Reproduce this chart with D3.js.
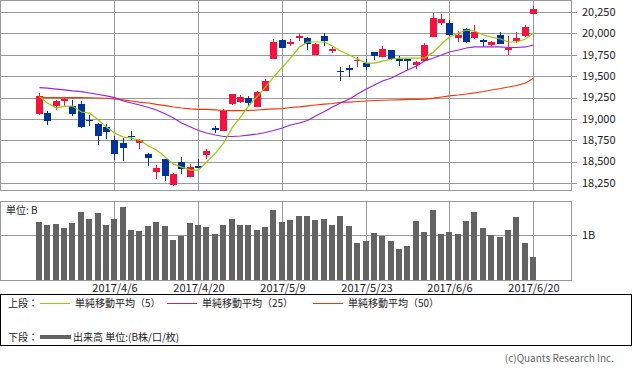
<!DOCTYPE html>
<html>
<head>
<meta charset="utf-8">
<script src="https://cdn.jsdelivr.net/npm/d3@7"></script>
<style>
body { margin: 0; background: #fff; }
text { font-family: "Noto Sans CJK JP", "Noto Sans", sans-serif; }
</style>
</head>
<body>
<div id="chart"></div>
<script>
// trading days shown, 2017
const dates = ["3/24","3/27","3/28","3/29","3/30","3/31","4/3","4/4","4/5","4/6",
  "4/7","4/10","4/11","4/12","4/13","4/14","4/17","4/18","4/19","4/20",
  "4/21","4/24","4/25","4/26","4/27","4/28","5/1","5/2","5/8","5/9",
  "5/10","5/11","5/12","5/15","5/16","5/17","5/18","5/19","5/22","5/23",
  "5/24","5/25","5/26","5/29","5/30","5/31","6/1","6/2","6/5","6/6",
  "6/7","6/8","6/9","6/12","6/13","6/14","6/15","6/16","6/19","6/20"];

const opens = [19057,19072,19151,19221,19151,19174,18987,18940,18905,18753,
  18718,18800,18718,18589,18379,18531,18227,18496,18320,18449,
  18577,18893,18858,19174,19197,19244,19139,19326,19700,19923,
  19876,19946,19946,19747,19969,19794,19560,19595,19677,19654,
  19782,19724,19806,19700,19700,19630,19677,19958,20121,20121,
  19946,20051,19946,19923,19864,19981,19806,19911,19969,20227];
const highs = [19299,19096,19221,19256,19221,19209,19046,18952,18940,18800,
  18776,18858,18765,18601,18461,18531,18367,18554,18472,18531,
  18648,18917,19115,19291,19279,19268,19326,19466,19934,19934,
  19934,19993,19958,19887,20004,19841,19607,19630,19724,19700,
  19782,19852,19806,19735,19700,19677,19887,20238,20227,20156,
  20028,20063,20098,19934,19911,20016,19969,20016,20098,20320];
const lows = [19045,18928,19104,19151,19034,18899,18917,18694,18765,18519,
  18507,18753,18648,18449,18297,18273,18215,18355,18320,18425,
  18531,18835,18858,19162,19186,19151,19139,19326,19700,19829,
  19852,19911,19806,19747,19852,19770,19443,19490,19607,19572,
  19689,19724,19689,19618,19572,19583,19677,19958,20098,19969,
  19899,19887,19934,19841,19841,19876,19747,19887,19958,20227];
const closes = [19268,18975,19209,19232,19057,18905,18975,18800,18847,18589,
  18659,18788,18753,18542,18425,18332,18355,18414,18437,18425,
  18624,18870,19092,19291,19256,19186,19314,19443,19899,19829,
  19899,19969,19876,19876,19911,19817,19548,19583,19689,19607,
  19735,19817,19700,19677,19677,19665,19864,20180,20168,19981,
  19981,19899,20016,19899,19899,19876,19829,19946,20075,20285];

// volume in billions of shares
const volumes = [1.29,1.22,1.24,1.16,1.27,1.51,1.36,1.49,1.22,1.36,
  1.62,1.11,1.09,1.20,1.29,1.20,0.89,0.98,1.27,1.22,
  1.18,1.02,1.22,1.36,1.22,1.22,1.11,1.18,1.56,1.29,
  1.33,1.42,1.42,1.33,1.36,1.22,1.42,1.20,0.82,0.87,
  1.04,0.98,0.87,0.69,0.76,1.31,1.07,1.56,1.02,1.07,
  1.02,1.31,1.51,1.16,1.00,0.96,1.11,1.40,0.82,0.51];

const ma5 = [19259,19185,19126,19150,19150,19080,19068,18986,18904,18834,
  18787,18775,18752,18682,18635,18553,18471,18436,18401,18401,
  18495,18600,18717,18904,19021,19150,19267,19372,19489,19606,
  19711,19840,19899,19899,19899,19852,19793,19747,19700,19653,
  19653,19676,19700,19711,19711,19711,19711,19782,19875,19957,
  20004,20039,20027,19981,19957,19934,19899,19899,19934,20004];
const ma25 = [19365,19359,19349,19340,19328,19318,19303,19285,19268,19248,
  19209,19186,19162,19133,19104,19057,19010,18952,18905,18864,
  18835,18811,18794,18794,18800,18811,18823,18841,18864,18893,
  18928,18952,18981,19034,19086,19139,19186,19233,19291,19349,
  19396,19443,19478,19525,19572,19618,19677,19712,19747,19782,
  19806,19829,19841,19841,19841,19841,19835,19835,19841,19864];
const ma50 = [19248,19248,19248,19248,19248,19248,19247,19244,19241,19235,
  19223,19209,19197,19186,19170,19156,19139,19127,19116,19112,
  19110,19106,19098,19096,19096,19098,19104,19110,19116,19121,
  19133,19141,19153,19162,19172,19180,19192,19197,19203,19209,
  19215,19218,19221,19223,19227,19229,19230,19242,19256,19268,
  19279,19291,19303,19320,19338,19355,19373,19390,19420,19475];

const priceTicks = [18250,18500,18750,19000,19250,19500,19750,20000,20250];
const dateTicks = ["4/6","4/20","5/9","5/23","6/6","6/20"];
const volTicks = [1];

const UP = "#f5123f", DOWN = "#003399", GRID = "#9a9a9a";

const svg = d3.select("#chart").append("svg")
  .attr("width", 633).attr("height", 370);

const x = d3.scalePoint().domain(dates).range([39, 533]);
const cx = d => Math.round(x(d));
const yP = d3.scaleLinear().domain([18250, 20250]).range([183, 12]);
const yV = d3.scaleLinear().domain([0, 1]).range([280, 235]);

// ---- price panel frame + grid
let grid = svg.append("g").attr("shape-rendering", "crispEdges").attr("stroke", GRID);
grid.selectAll(".hp").data(priceTicks).join("line")
  .attr("x1", 0).attr("x2", 577)
  .attr("y1", d => Math.round(yP(d)) + 0.5).attr("y2", d => Math.round(yP(d)) + 0.5);
grid.selectAll(".vp").data(dateTicks).join("line")
  .attr("x1", d => cx(d) + 0.5).attr("x2", d => cx(d) + 0.5)
  .attr("y1", 0).attr("y2", 191);
grid.append("rect").attr("x", 0.5).attr("y", 0.5).attr("width", 571).attr("height", 190)
  .attr("fill", "none");

// ---- volume panel frame + grid
grid.selectAll(".hv").data(volTicks).join("line")
  .attr("x1", 0).attr("x2", 577)
  .attr("y1", d => Math.round(yV(d)) + 0.5).attr("y2", d => Math.round(yV(d)) + 0.5);
grid.selectAll(".vv").data(dateTicks).join("line")
  .attr("x1", d => cx(d) + 0.5).attr("x2", d => cx(d) + 0.5)
  .attr("y1", 201).attr("y2", 281);
grid.append("rect").attr("x", 0.5).attr("y", 201.5).attr("width", 571).attr("height", 79)
  .attr("fill", "none");

// price labels
svg.selectAll(".pl").data(priceTicks).join("text")
  .attr("x", 582).attr("y", d => yP(d)).attr("dy", "0.35em")
  .attr("font-size", 11).attr("fill", "#222")
  .text(d => d3.format(",")(d));

svg.append("text").attr("x", 582).attr("y", yV(1)).attr("dy", "0.35em")
  .attr("font-size", 11).attr("fill", "#222").text("1B");

svg.selectAll(".dl").data(dateTicks).join("text")
  .attr("x", d => cx(d) + 1).attr("y", 292)
  .attr("text-anchor", "middle").attr("font-size", 11).attr("fill", "#222")
  .text(d => "2017/" + d);

svg.append("text").attr("x", 6).attr("y", 214)
  .attr("font-size", 10).attr("fill", "#222").text("単位: B");

// ---- candles
const idx = d3.range(dates.length);
const cg = svg.append("g").attr("shape-rendering", "crispEdges");
const col = i => closes[i] >= opens[i] ? UP : DOWN;

cg.selectAll("line").data(idx).join("line")
  .attr("x1", i => cx(dates[i]) + 0.5).attr("x2", i => cx(dates[i]) + 0.5)
  .attr("y1", i => yP(highs[i])).attr("y2", i => yP(lows[i]))
  .attr("stroke", col);

cg.selectAll("rect").data(idx).join("rect")
  .attr("x", i => cx(dates[i]) - 3).attr("width", 7)
  .attr("y", i => yP(Math.max(opens[i], closes[i])))
  .attr("height", i => Math.max(1.5, Math.abs(yP(opens[i]) - yP(closes[i]))))
  .attr("fill", col);

// ---- moving averages
const line = arr => d3.line()
  .x((d, i) => cx(dates[i]) + 0.5)
  .y(d => yP(d))(arr);

svg.append("path").attr("d", line(ma50)).attr("fill", "none").attr("stroke", "#ff3300").attr("stroke-width", 1.2);
svg.append("path").attr("d", line(ma25)).attr("fill", "none").attr("stroke", "#9922ee").attr("stroke-width", 1.2);
svg.append("path").attr("d", line(ma5)).attr("fill", "none").attr("stroke", "#99cc00").attr("stroke-width", 1.2);

// ---- volume bars
svg.append("g").attr("shape-rendering", "crispEdges")
  .selectAll("rect").data(idx).join("rect")
  .attr("x", i => cx(dates[i]) - 3).attr("width", 6)
  .attr("y", i => yV(volumes[i]))
  .attr("height", i => yV(0) - yV(volumes[i]))
  .attr("fill", "#636363");

// ---- legend
const lg = svg.append("g");
lg.append("rect").attr("x", 0.5).attr("y", 294.5).attr("width", 631).attr("height", 51)
  .attr("fill", "none").attr("stroke", "#000").attr("shape-rendering", "crispEdges");

const legendItems = [
  {label: "単純移動平均（5）", color: "#99cc00", x1: 40},
  {label: "単純移動平均（25）", color: "#9922ee", x1: 167},
  {label: "単純移動平均（50）", color: "#ff3300", x1: 313}
];
lg.append("text").attr("x", 8).attr("y", 303).attr("dy", "0.35em")
  .attr("font-size", 10).attr("fill", "#222").text("上段：");
legendItems.forEach(d => {
  lg.append("line").attr("x1", d.x1).attr("x2", d.x1 + 30)
    .attr("y1", 303.5).attr("y2", 303.5).attr("stroke", d.color);
  lg.append("text").attr("x", d.x1 + 35).attr("y", 303).attr("dy", "0.35em")
    .attr("font-size", 10).attr("fill", "#222").text(d.label);
});
lg.append("text").attr("x", 8).attr("y", 337).attr("dy", "0.35em")
  .attr("font-size", 10).attr("fill", "#222").text("下段：");
lg.append("line").attr("x1", 40).attr("x2", 71).attr("y1", 337).attr("y2", 337)
  .attr("stroke", "#636363").attr("stroke-width", 4);
lg.append("text").attr("x", 73).attr("y", 337).attr("dy", "0.35em")
  .attr("font-size", 10).attr("fill", "#222").text("出来高 単位:(B株/口/枚)");

svg.append("text").attr("x", 614).attr("y", 358).attr("dy", "0.35em")
  .attr("text-anchor", "end").attr("font-size", 10).attr("fill", "#666")
  .text("(c)Quants Research Inc.");
</script>
</body>
</html>
